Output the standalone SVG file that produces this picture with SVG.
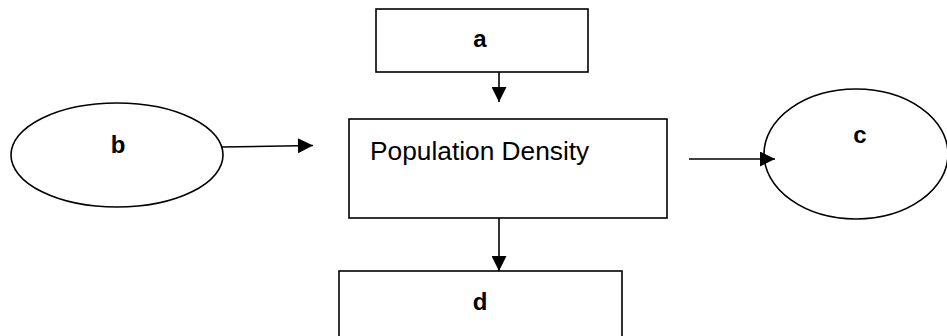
<svg xmlns="http://www.w3.org/2000/svg" width="947" height="336" viewBox="0 0 947 336">
<style>
.shape{fill:#fff;stroke:#000;stroke-width:1.6}
.lbl{font-family:"Liberation Sans",Arial,sans-serif;font-weight:bold;font-size:24px;fill:#000}
.txt{font-family:"Liberation Sans",Arial,sans-serif;font-size:26.3px;fill:#000}
.edge{stroke:#000;stroke-width:1.6;fill:none;marker-end:url(#ah)}
</style>
<defs>
<marker id="ah" viewBox="0 0 10 10" refX="10" refY="5" markerUnits="userSpaceOnUse" markerWidth="16" markerHeight="15" orient="auto">
<path d="M0,0 L10,5 L0,10 z" fill="#000"/>
</marker>
</defs>
<rect width="947" height="336" fill="#fff"/>
<g id="node-a">
<rect class="shape" x="376" y="9" width="212" height="63"/>
<text class="lbl" x="480" y="47" text-anchor="middle">a</text>
</g>
<g id="node-b">
<ellipse class="shape" cx="117" cy="155" rx="106" ry="52"/>
<text class="lbl" x="118" y="153" text-anchor="middle">b</text>
</g>
<g id="node-pd">
<rect class="shape" x="349" y="119" width="318" height="99"/>
<text class="txt" x="370" y="160">Population Density</text>
</g>
<g id="node-c">
<ellipse class="shape" cx="856" cy="154" rx="92" ry="65"/>
<text class="lbl" x="860" y="143" text-anchor="middle">c</text>
</g>
<g id="node-d">
<rect class="shape" x="339" y="271" width="283" height="80"/>
<text class="lbl" x="480" y="310" text-anchor="middle">d</text>
</g>
<g id="connectors">
<line class="edge" x1="499" y1="72" x2="499" y2="102"/>
<line class="edge" x1="222" y1="147" x2="313" y2="145.5"/>
<line class="edge" x1="689" y1="159" x2="775" y2="159"/>
<line class="edge" x1="499" y1="218" x2="499" y2="271"/>
</g>
</svg>
